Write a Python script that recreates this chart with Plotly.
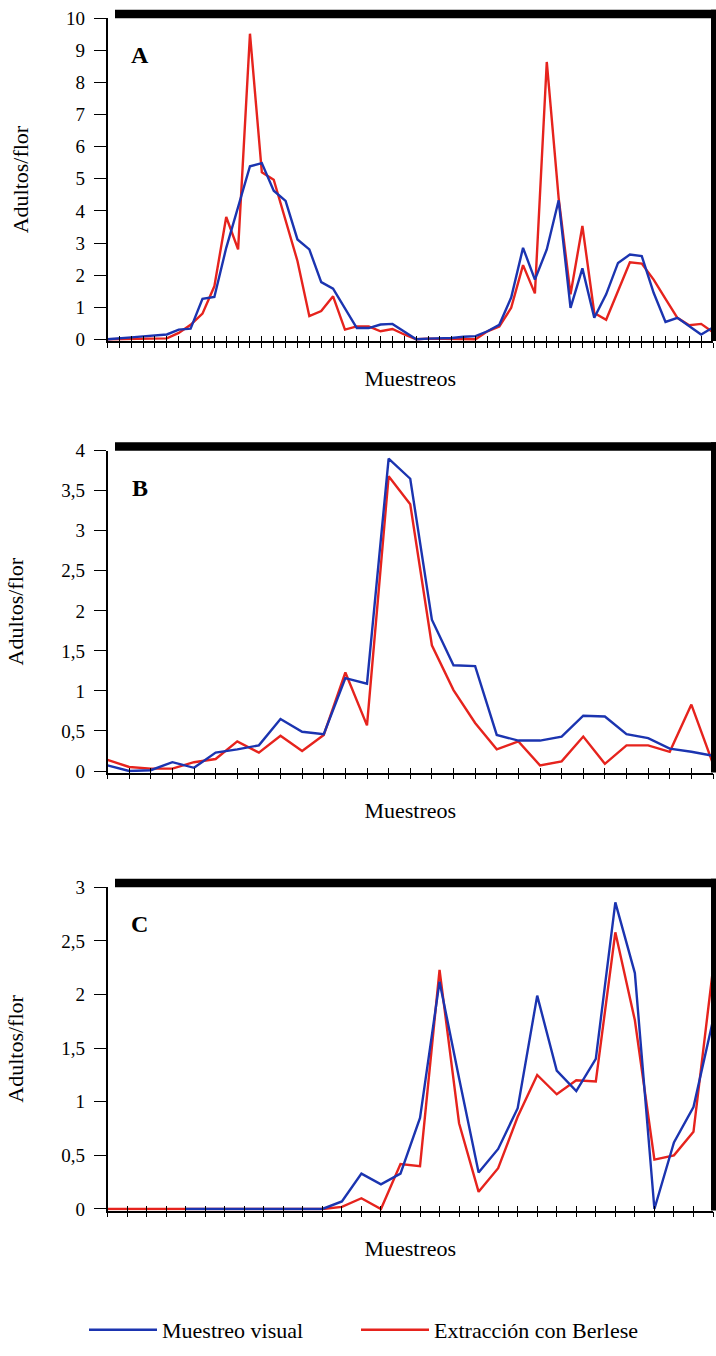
import plotly.graph_objects as go

# ---------------- data ----------------
samples_A = list(range(52))
visual_A = [0.00, 0.04, 0.06, 0.09, 0.12, 0.15, 0.30, 0.33, 1.26, 1.32,
            2.85, 4.15, 5.39, 5.49, 4.63, 4.31, 3.11, 2.80, 1.78, 1.58,
            0.98, 0.35, 0.35, 0.46, 0.48, 0.25, 0.00, 0.02, 0.03, 0.04,
            0.08, 0.10, 0.25, 0.45, 1.30, 2.85, 1.86, 2.80, 4.33, 0.98,
            2.21, 0.67, 1.40, 2.38, 2.64, 2.59, 1.45, 0.54, 0.67, 0.41,
            0.15, 0.37]
berlese_A = [0.00, 0.01, 0.01, 0.02, 0.02, 0.03, 0.20, 0.45, 0.80, 1.65,
             3.81, 2.80, 9.52, 5.20, 4.97, 3.70, 2.44, 0.72, 0.88, 1.34,
             0.30, 0.40, 0.40, 0.25, 0.32, 0.15, 0.00, 0.02, 0.02, 0.01,
             0.00, 0.00, 0.25, 0.40, 0.98, 2.31, 1.43, 8.64, 4.40, 1.40,
             3.53, 0.82, 0.61, 1.50, 2.40, 2.36, 1.86, 1.26, 0.67, 0.44,
             0.48, 0.22]

samples_B = list(range(29))
visual_B = [0.07, 0.00, 0.01, 0.11, 0.04, 0.23, 0.27, 0.32, 0.65, 0.49,
            0.46, 1.16, 1.09, 3.90, 3.65, 1.89, 1.32, 1.31, 0.45, 0.38,
            0.38, 0.43, 0.69, 0.68, 0.46, 0.41, 0.28, 0.24, 0.19]
berlese_B = [0.14, 0.05, 0.03, 0.03, 0.11, 0.15, 0.37, 0.23, 0.44, 0.25,
             0.45, 1.23, 0.57, 3.68, 3.33, 1.57, 1.01, 0.60, 0.27, 0.37,
             0.07, 0.12, 0.43, 0.09, 0.32, 0.32, 0.24, 0.83, 0.09]

samples_C = list(range(32))
visual_C = [None, None, None, None, 0.00, 0.00, 0.00, 0.00, 0.00, 0.00,
            0.00, 0.00, 0.07, 0.33, 0.23, 0.33, 0.85, 2.12, 1.22, 0.34,
            0.56, 0.94, 1.99, 1.29, 1.10, 1.40, 2.86, 2.20, 0.00, 0.62,
            0.95, 1.76]
berlese_C = [0.00, 0.00, 0.00, 0.00, 0.00, 0.00, 0.00, 0.00, 0.00, 0.00,
             0.00, 0.00, 0.02, 0.10, 0.00, 0.42, 0.40, 2.23, 0.80, 0.16,
             0.38, 0.86, 1.25, 1.07, 1.20, 1.19, 2.58, 1.76, 0.46, 0.50,
             0.72, 2.24]

panel_letters = ["A", "B", "C"]
y_title = "Adultos/flor"
x_title = "Muestreos"
name_visual = "Muestreo visual"
name_berlese = "Extracción con Berlese"

# ---------------- style ----------------
BLUE = "#1b34b0"
RED = "#e6231d"
SERIF = "Liberation Serif, Times New Roman, serif"
W, H = 716, 1356


def py(y_ref):
    return 1 - y_ref / H


panels = [
    dict(x=samples_A, vis=visual_A, ber=berlese_A, yr=[-0.05, 10], dt=1, dom=[py(340.9), py(18.3)]),
    dict(x=samples_B, vis=visual_B, ber=berlese_B, yr=[-0.02, 4], dt=0.5, dom=[py(772.6), py(450.7)]),
    dict(x=samples_C, vis=visual_C, ber=berlese_C, yr=[-0.015, 3], dt=0.5, dom=[py(1210.6), py(887.3)]),
]
XDOM = [107.5 / W, 713.0 / W]
DW = 605.5

legend_style = dict(orientation="h", xanchor="left", y=py(1330), yanchor="middle",
                    font=dict(family=SERIF, size=22, color="black"), itemwidth=68,
                    bgcolor="rgba(0,0,0,0)")

fig = go.Figure()
layout = dict(
    width=W, height=H,
    margin=dict(l=0, r=0, t=0, b=0, autoexpand=False),
    paper_bgcolor="white", plot_bgcolor="white",
    separators=",.",
    font=dict(family=SERIF, color="black", size=19),
    showlegend=True,
    legend=dict(x=84 / W, **legend_style),
    legend2=dict(x=356 / W, **legend_style),
)
shapes = []
annotations = []

for k, p in enumerate(panels):
    n = k + 1
    xa = "x" if n == 1 else f"x{n}"
    ya = "y" if n == 1 else f"y{n}"
    xo = f"x{n + 3}"  # overlay axis for the inward halves of the crossing ticks
    xkey = "xaxis" if n == 1 else f"xaxis{n}"
    ykey = "yaxis" if n == 1 else f"yaxis{n}"
    xokey = f"xaxis{n + 3}"
    npts = len(p["x"])

    fig.add_trace(go.Scatter(x=p["x"], y=p["ber"], mode="lines", name=name_berlese,
                             line=dict(color=RED, width=2.4), xaxis=xa, yaxis=ya,
                             showlegend=(n == 1), legend="legend2"))
    fig.add_trace(go.Scatter(x=p["x"], y=p["vis"], mode="lines", name=name_visual,
                             line=dict(color=BLUE, width=2.4), xaxis=xo, yaxis=ya,
                             showlegend=(n == 1), legend="legend", connectgaps=False))

    layout[xkey] = dict(domain=XDOM, anchor=ya, range=[0, npts - 1], dtick=1, tick0=0,
                        showticklabels=False, ticks="outside", ticklen=5, tickwidth=1.2,
                        tickcolor="black", showline=True, linecolor="black", linewidth=1.5,
                        showgrid=False, zeroline=False, automargin=False, fixedrange=True,
                        title=dict(text=x_title, font=dict(family=SERIF, size=22), standoff=24))
    layout[xokey] = dict(domain=XDOM, anchor=ya, overlaying=xa, matches=xa, range=[0, npts - 1],
                         dtick=1, tick0=0, showticklabels=False, ticks="inside", ticklen=5,
                         tickwidth=1.2, tickcolor="black", showline=False, showgrid=False,
                         zeroline=False, automargin=False, fixedrange=True)
    layout[ykey] = dict(domain=p["dom"], anchor=xa, range=p["yr"], dtick=p["dt"], tick0=0,
                        ticks="outside", ticklen=12, tickwidth=1.2, tickcolor="black",
                        showline=True, linecolor="black", linewidth=1.5, showgrid=False,
                        zeroline=False, automargin=False, fixedrange=True, ticklabelstandoff=5,
                        ticklabeloverflow="allow", tickfont=dict(family=SERIF, size=19),
                        title=dict(text=y_title, font=dict(family=SERIF, size=22), standoff=31))

    xd = f"{xa} domain"
    yd = f"{ya} domain"
    hpx = (p["dom"][1] - p["dom"][0]) * H
    bar = 8.5 / hpx
    # heavy top bar
    shapes.append(dict(type="rect", xref=xd, yref=yd, x0=7.5 / DW, x1=608.5 / DW,
                       y0=1.0, y1=1.0 + bar, fillcolor="black", line=dict(width=0), layer="above"))
    # heavy right border
    shapes.append(dict(type="rect", xref=xd, yref=yd, x0=603.5 / DW, x1=608.5 / DW,
                       y0=0.0, y1=1.0 + bar, fillcolor="black", line=dict(width=0), layer="above"))
    annotations.append(dict(text=f"<b>{panel_letters[k]}</b>", xref=xd, yref=yd,
                            x=32 / DW, y=1 - 37 / hpx, showarrow=False,
                            font=dict(family=SERIF, size=24, color="black"),
                            xanchor="center", yanchor="middle"))

layout["shapes"] = shapes
layout["annotations"] = annotations
fig.update_layout(**layout)
# the page keeps no default body margin, so the 716x1356 figure fills the window exactly
fig.write_html("out.html", config={"displayModeBar": False},
               post_script="document.body.style.margin='0px';")
